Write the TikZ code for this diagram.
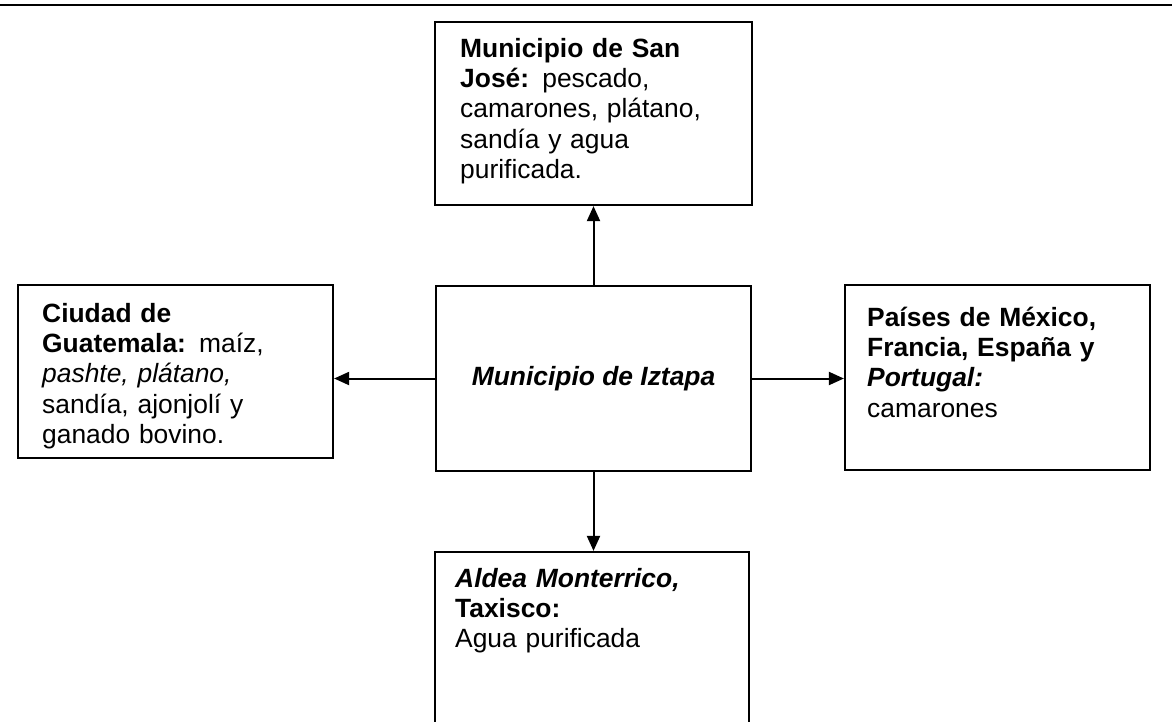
\documentclass[tikz,border=0pt]{standalone}
\usepackage{fontspec}
\setmainfont{Liberation Sans}
\usetikzlibrary{arrows.meta}
\begin{document}
\begin{tikzpicture}[x=1pt,y=-1pt,
  caja/.style={draw,line width=2.2pt,inner sep=0pt},
  texto/.style={anchor=base west,inner sep=0pt,text width=300pt,align=left,font=\fontsize{26.4}{30.4}\selectfont},
  flecha/.style={line width=2pt,-{Triangle[length=15pt,width=13pt]}}]
\useasboundingbox (0,0) rectangle (1172,721);
\draw[line width=2.5pt] (0,5) -- (1172,5);
\node[caja,minimum width=317pt,minimum height=183pt] (sanjose) at (593.5,113.5) {};
\node[caja,minimum width=315pt,minimum height=185pt,font=\fontsize{26.4}{30.4}\selectfont\bfseries\itshape] (iztapa) at (593.5,378.5) {Municipio de Iztapa};
\node[caja,minimum width=315pt,minimum height=173pt] (guate) at (175.5,371.5) {};
\node[caja,minimum width=305pt,minimum height=185pt] (paises) at (997.5,377.5) {};
\node[caja,minimum width=314pt,minimum height=200pt] (aldea) at (592,652) {};
\node[texto] (sanjosetxt) at (460,57) {\textbf{Municipio de San}\\\textbf{José:} pescado,\\camarones, plátano,\\sandía y agua\\purificada.};
\node[texto] (guatetxt) at (42,322) {\textbf{Ciudad de}\\\textbf{Guatemala:} maíz,\\\textit{pashte, plátano,}\\sandía, ajonjolí y\\ganado bovino.};
\node[texto] (paisestxt) at (867,326) {\textbf{Países de México,}\\\textbf{Francia, España y}\\\textbf{\textit{Portugal:}}\\camarones};
\node[texto] (aldeatxt) at (455,587) {\textbf{\textit{Aldea Monterrico,}}\\\textbf{Taxisco:}\\Agua purificada};
\draw[flecha] (iztapa.north) -- (sanjose.south);
\draw[flecha] (iztapa.south) -- (iztapa.south |- aldea.north);
\draw[flecha] (iztapa.west) -- (iztapa.west -| guate.east);
\draw[flecha] (iztapa.east) -- (iztapa.east -| paises.west);
\end{tikzpicture}
\end{document}
